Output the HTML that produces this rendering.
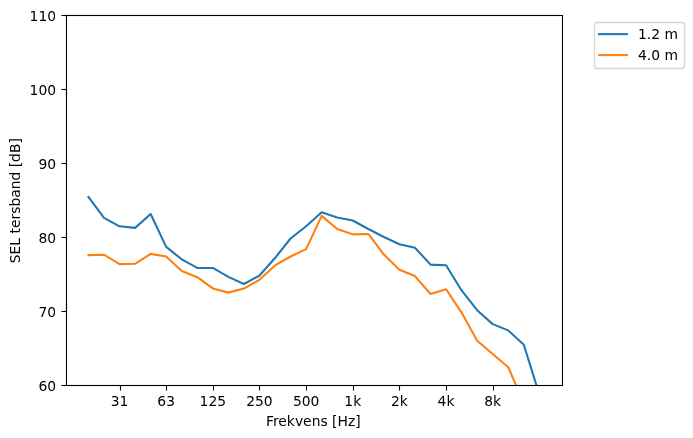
<!DOCTYPE html>
<html lang="sv">
<head>
<meta charset="utf-8">
<title>SEL tersband</title>
<style>
html,body{margin:0;padding:0;background:#fff;}
svg{display:block;}
text{fill:#000;}
</style>
</head>
<body>
<svg width="693" height="438" viewBox="0 0 693 438" font-family="'DejaVu Sans', 'Liberation Sans', sans-serif" font-size="13.889">
<rect x="0" y="0" width="693" height="438" fill="#ffffff"/>
<defs><clipPath id="ax"><rect x="65.78" y="15.5" width="496" height="369.6"/></clipPath></defs>
<g clip-path="url(#ax)" fill="none" stroke-width="2.083" stroke-linejoin="round" stroke-linecap="square">
<polyline points="88.43,196.97 103.98,217.82 119.53,226.32 135.08,227.87 150.63,213.98 166.18,246.87 181.72,259.29 197.27,267.94 212.82,267.94 228.37,276.88 243.92,283.98 259.47,275.55 275.02,258.03 290.57,238.52 306.12,226.25 321.66,212.20 337.21,217.45 352.76,220.48 368.31,228.98 383.86,236.96 399.41,244.21 414.96,247.68 430.51,264.61 446.06,265.28 461.61,290.48 477.15,310.22 492.70,324.12 508.25,330.40 523.80,344.81 539.35,394.49" stroke="#1f77b4"/>
<polyline points="88.43,255.15 103.98,254.71 119.53,264.09 135.08,263.80 150.63,253.89 166.18,256.55 181.72,271.04 197.27,277.18 212.82,288.41 228.37,292.63 243.92,288.56 259.47,279.76 275.02,265.42 290.57,256.48 306.12,249.09 321.66,215.90 337.21,228.98 352.76,234.38 368.31,233.93 383.86,254.56 399.41,269.78 414.96,276.07 430.51,294.03 446.06,289.23 461.61,312.58 477.15,340.82 492.70,354.05 508.25,367.21 523.80,403.36 539.35,444.24" stroke="#ff7f0e"/>
</g>
<g stroke="#000" stroke-width="1.111" fill="none">
<line x1="120.5" y1="385.5" x2="120.5" y2="390.5"/>
<line x1="166.5" y1="385.5" x2="166.5" y2="390.5"/>
<line x1="213.5" y1="385.5" x2="213.5" y2="390.5"/>
<line x1="259.5" y1="385.5" x2="259.5" y2="390.5"/>
<line x1="306.5" y1="385.5" x2="306.5" y2="390.5"/>
<line x1="353.5" y1="385.5" x2="353.5" y2="390.5"/>
<line x1="399.5" y1="385.5" x2="399.5" y2="390.5"/>
<line x1="446.5" y1="385.5" x2="446.5" y2="390.5"/>
<line x1="493.5" y1="385.5" x2="493.5" y2="390.5"/>
<line x1="61.5" y1="385.5" x2="66.5" y2="385.5"/>
<line x1="61.5" y1="311.5" x2="66.5" y2="311.5"/>
<line x1="61.5" y1="237.5" x2="66.5" y2="237.5"/>
<line x1="61.5" y1="163.5" x2="66.5" y2="163.5"/>
<line x1="61.5" y1="89.5" x2="66.5" y2="89.5"/>
<line x1="61.5" y1="15.5" x2="66.5" y2="15.5"/>
<rect x="66.5" y="15.5" width="496" height="370" stroke-linejoin="miter"/>
</g>
<g text-anchor="middle">
<text x="119.53" y="406">31</text>
<text x="166.18" y="406">63</text>
<text x="212.82" y="406">125</text>
<text x="259.47" y="406">250</text>
<text x="306.12" y="406">500</text>
<text x="352.76" y="406">1k</text>
<text x="399.41" y="406">2k</text>
<text x="446.06" y="406">4k</text>
<text x="492.70" y="406">8k</text>
</g>
<g text-anchor="end">
<text x="56.06" y="390.8">60</text>
<text x="56.06" y="316.8">70</text>
<text x="56.06" y="242.8">80</text>
<text x="56.06" y="168.8">90</text>
<text x="56.06" y="94.8">100</text>
<text x="56.06" y="20.8">110</text>
</g>
<text x="313.3" y="425.5" text-anchor="middle">Frekvens [Hz]</text>
<text transform="translate(19.6,200.7) rotate(-90)" text-anchor="middle">SEL tersband [dB]</text>
<rect x="594.5" y="22.5" width="90" height="46" rx="2.78" ry="2.78" fill="#ffffff" fill-opacity="0.8" stroke="#cccccc" stroke-opacity="0.8" stroke-width="1.389"/>
<line x1="599.08" y1="34.14" x2="626.86" y2="34.14" stroke="#1f77b4" stroke-width="2.083" stroke-linecap="square"/>
<line x1="599.08" y1="55.08" x2="626.86" y2="55.08" stroke="#ff7f0e" stroke-width="2.083" stroke-linecap="square"/>
<text x="637.97" y="39">1.2 m</text>
<text x="637.97" y="59.94">4.0 m</text>
</svg>
</body>
</html>
